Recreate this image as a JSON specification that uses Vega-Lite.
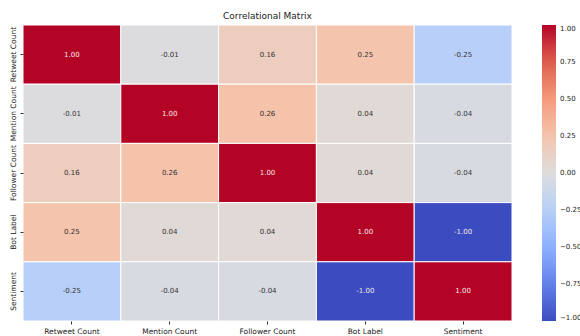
{
  "$schema": "https://vega.github.io/schema/vega-lite/v6.json",
  "autosize": {"type": "none"},
  "width": 489,
  "height": 296,
  "padding": {"left": 23, "top": 25, "right": 68, "bottom": 15},
  "background": "white",
  "title": {"text": "Correlational Matrix", "fontSize": 9, "font": "DejaVu Sans", "fontWeight": "normal", "color": "#222", "offset": 4, "anchor": "middle"},
  "config": {
    "view": {"stroke": null},
    "font": "DejaVu Sans"
  },
  "data": {
    "values": [
      {"row": "Retweet Count", "col": "Retweet Count", "r": 1.0},
      {"row": "Retweet Count", "col": "Mention Count", "r": -0.01},
      {"row": "Retweet Count", "col": "Follower Count", "r": 0.16},
      {"row": "Retweet Count", "col": "Bot Label", "r": 0.25},
      {"row": "Retweet Count", "col": "Sentiment", "r": -0.25},
      {"row": "Mention Count", "col": "Retweet Count", "r": -0.01},
      {"row": "Mention Count", "col": "Mention Count", "r": 1.0},
      {"row": "Mention Count", "col": "Follower Count", "r": 0.26},
      {"row": "Mention Count", "col": "Bot Label", "r": 0.04},
      {"row": "Mention Count", "col": "Sentiment", "r": -0.04},
      {"row": "Follower Count", "col": "Retweet Count", "r": 0.16},
      {"row": "Follower Count", "col": "Mention Count", "r": 0.26},
      {"row": "Follower Count", "col": "Follower Count", "r": 1.0},
      {"row": "Follower Count", "col": "Bot Label", "r": 0.04},
      {"row": "Follower Count", "col": "Sentiment", "r": -0.04},
      {"row": "Bot Label", "col": "Retweet Count", "r": 0.25},
      {"row": "Bot Label", "col": "Mention Count", "r": 0.04},
      {"row": "Bot Label", "col": "Follower Count", "r": 0.04},
      {"row": "Bot Label", "col": "Bot Label", "r": 1.0},
      {"row": "Bot Label", "col": "Sentiment", "r": -1.0},
      {"row": "Sentiment", "col": "Retweet Count", "r": -0.25},
      {"row": "Sentiment", "col": "Mention Count", "r": -0.04},
      {"row": "Sentiment", "col": "Follower Count", "r": -0.04},
      {"row": "Sentiment", "col": "Bot Label", "r": -1.0},
      {"row": "Sentiment", "col": "Sentiment", "r": 1.0}
    ]
  },
  "encoding": {
    "x": {
      "field": "col", "type": "nominal",
      "sort": ["Retweet Count", "Mention Count", "Follower Count", "Bot Label", "Sentiment"],
      "title": null,
      "axis": {"labelAngle": 0, "labelFontSize": 7.5, "labelColor": "#222", "domain": false, "tickSize": 3, "tickColor": "#333", "labelPadding": 3}
    },
    "y": {
      "field": "row", "type": "nominal",
      "sort": ["Retweet Count", "Mention Count", "Follower Count", "Bot Label", "Sentiment"],
      "title": null,
      "axis": {"labelAngle": 270, "labelAlign": "center", "labelBaseline": "bottom", "labelFontSize": 7.5, "labelColor": "#222", "domain": false, "tickSize": 3, "tickColor": "#333", "labelPadding": 3}
    }
  },
  "layer": [
    {
      "mark": {"type": "rect", "stroke": "white", "strokeWidth": 1},
      "encoding": {
        "color": {
          "field": "r", "type": "quantitative",
          "scale": {
            "domain": [-1, -0.75, -0.5, -0.25, 0, 0.25, 0.5, 0.75, 1],
            "range": ["#3b4cc0", "#6282ea", "#8db0fe", "#b8d0f9", "#dddddd", "#f5c4ac", "#f49a7b", "#de604d", "#b40426"],
            "interpolate": "rgb"
          },
          "legend": {
            "title": null,
            "orient": "right",
            "offset": 30,
            "gradientLength": 296,
            "gradientThickness": 14,
            "gradientStrokeWidth": 0,
            "values": [1, 0.75, 0.5, 0.25, 0, -0.25, -0.5, -0.75, -1],
            "format": ".2f",
            "labelFontSize": 7,
            "labelColor": "#222",
            "labelOffset": 4,
            "labelOverlap": false
          }
        }
      }
    },
    {
      "transform": [
        {"calculate": "replace(format(datum.r, '.2f'), '\u2212', '-')", "as": "label"}
      ],
      "mark": {"type": "text", "fontSize": 7, "font": "DejaVu Sans"},
      "encoding": {
        "text": {"field": "label", "type": "nominal"},
        "color": {
          "condition": {"test": "abs(datum.r) > 0.6", "value": "#f4e8e8"},
          "value": "#333333"
        }
      }
    }
  ]
}
